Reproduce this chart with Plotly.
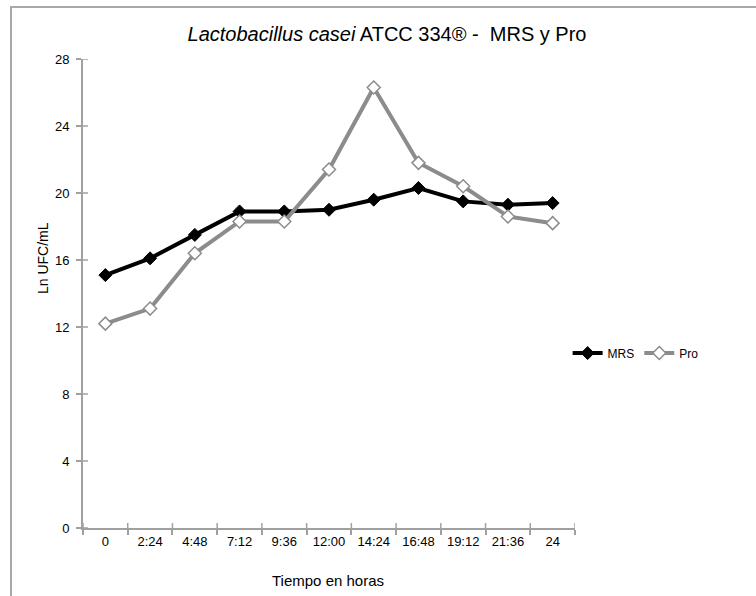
import plotly.graph_objects as go

categories = ["0", "2:24", "4:48", "7:12", "9:36", "12:00", "14:24", "16:48", "19:12", "21:36", "24"]
mrs = [15.1, 16.1, 17.5, 18.9, 18.9, 19.0, 19.6, 20.3, 19.5, 19.3, 19.4]
pro = [12.2, 13.1, 16.4, 18.3, 18.3, 21.4, 26.3, 21.8, 20.4, 18.6, 18.2]
y_ticks = [0, 4, 8, 12, 16, 20, 24, 28]

FONT = "Liberation Sans, Arial, sans-serif"
AX = "#a0a0a0"

fig = go.Figure()
fig.add_trace(go.Scatter(
    x=categories, y=mrs, name="MRS", mode="lines+markers",
    line=dict(color="black", width=4),
    marker=dict(symbol="diamond", size=10, color="black", line=dict(color="black", width=1)),
))
fig.add_trace(go.Scatter(
    x=categories, y=pro, name="Pro", mode="lines+markers",
    line=dict(color="#8c8c8c", width=4),
    marker=dict(symbol="diamond", size=10, color="white", line=dict(color="#8c8c8c", width=1.5)),
))

fig.update_layout(
    width=756, height=596,
    margin=dict(l=83, r=181, t=59, b=68),
    paper_bgcolor="white", plot_bgcolor="white",
    font=dict(family=FONT, color="black", size=13),
    title=dict(
        text="<i>Lactobacillus casei</i> ATCC 334® -  MRS y Pro",
        x=(387 - 83) / 492, xref="paper", xanchor="center", y=1 - 34 / 596, yanchor="middle",
        font=dict(family=FONT, size=20, color="black"),
    ),
    showlegend=True,
    legend=dict(
        orientation="h", x=0.985, xanchor="left", y=0.373, yanchor="middle",
        font=dict(size=12, family=FONT), itemwidth=30, bgcolor="rgba(0,0,0,0)",
    ),
    xaxis=dict(
        type="category", tickson="boundaries", ticks="outside", ticklen=5,
        tickcolor=AX, tickwidth=1.5, showline=True, linecolor=AX, linewidth=2,
        showgrid=False, zeroline=False, tickfont=dict(size=13, family=FONT),
        categoryorder="array", categoryarray=categories, range=[-0.5, len(categories) - 0.5],
    ),
    yaxis=dict(
        range=[0, 28], tickvals=y_ticks, ticks="outside", ticklen=5,
        tickcolor=AX, tickwidth=1.5, showline=True, linecolor=AX, linewidth=2,
        showgrid=False, zeroline=False, tickfont=dict(size=13, family=FONT),
        ticklabelstandoff=4,
    ),
)

# inside halves of the crossing tick marks
for v in y_ticks:
    fig.add_shape(type="line", xref="paper", yref="y", x0=0, x1=5 / 492, y0=v, y1=v,
                  line=dict(color=AX, width=1.5), layer="above")
for i in range(len(categories) + 1):
    fig.add_shape(type="line", xref="x", yref="paper", x0=i - 0.5, x1=i - 0.5, y0=0, y1=5 / 469,
                  line=dict(color=AX, width=1.5), layer="above")

fig.add_annotation(text="Ln UFC/mL", xref="paper", yref="paper",
                   x=(43 - 83) / 492, y=(528 - 258) / 469, textangle=-90,
                   showarrow=False, font=dict(size=14, family=FONT),
                   xanchor="center", yanchor="middle")
fig.add_annotation(text="Tiempo en horas", xref="paper", yref="paper",
                   x=(328 - 83) / 492, y=(528 - 580) / 469,
                   showarrow=False, font=dict(size=15, family=FONT),
                   xanchor="center", yanchor="middle")

# outer chart frame
fig.add_shape(type="rect", xref="paper", yref="paper",
              x0=(11 - 83) / 492, x1=(770 - 83) / 492,
              y0=(528 - 610) / 469, y1=(528 - 7) / 469,
              line=dict(color="#a8a8a8", width=2), layer="below")

fig.write_html("out.html")
